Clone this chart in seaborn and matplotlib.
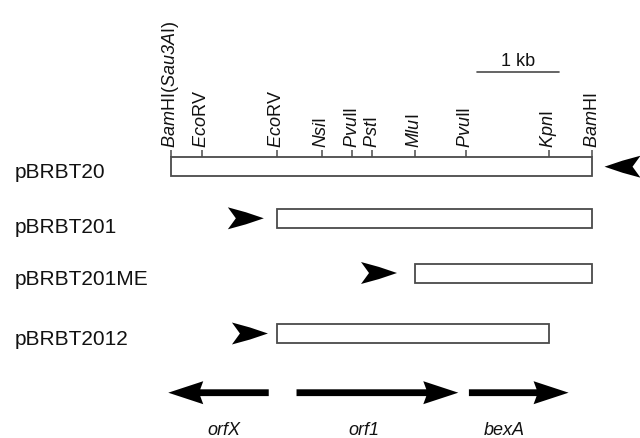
import matplotlib
matplotlib.use("Agg")
import matplotlib.pyplot as plt
from matplotlib.patches import Polygon
import seaborn as sns

# restriction sites, kb from the left BamHI end
# (\mathbf is mapped to the italic face below so digits stay italic too)
site_names = [r"$\mathbf{Bam}$HI($\mathbf{Sau3A}$I)", r"$\mathbf{Eco}$RV", r"$\mathbf{Eco}$RV",
              r"$\mathbf{Nsi}$I", r"$\mathbf{Pvu}$II", r"$\mathbf{Pst}$I", r"$\mathbf{Mlu}$I",
              r"$\mathbf{Pvu}$II", r"$\mathbf{Kpn}$I", r"$\mathbf{Bam}$HI"]
site_kb = [0.0, 0.38, 1.30, 1.85, 2.22, 2.47, 2.99, 3.61, 4.63, 5.16]

# constructs
constructs = ["pBRBT20", "pBRBT201", "pBRBT201ME", "pBRBT2012"]
insert_start = [0.0, 1.30, 2.99, 1.30]
insert_end = [5.16, 5.16, 5.16, 4.63]
primer_tip = [5.31, 1.14, 2.77, 1.19]
primer_dir = [-1, 1, 1, 1]

# genes (tail -> tip)
genes = ["orfX", "orf1", "bexA"]
gene_tail = [1.20, 1.54, 3.65]
gene_tip = [-0.03, 3.52, 4.87]
gene_label_kb = [0.65, 2.36, 4.08]

scale_kb = 1.0

# layout (y in pixels from top)
PX = 81.7          # pixels per kb
X0 = 170.7         # pixel x of 0 kb
row_y = [166.7, 218.3, 273.0, 333.5]
label_base = [177.7, 233.3, 285.0, 345.0]
box_h = 19
gene_y = 392.7
edge = "#4a4a4a"

sns.set_theme(style="white")
plt.rcParams["font.family"] = ["Liberation Sans", "DejaVu Sans"]
plt.rcParams["mathtext.fontset"] = "custom"
plt.rcParams["mathtext.rm"] = "Liberation Sans"
plt.rcParams["mathtext.bf"] = "Liberation Sans:italic"

fig = plt.figure(figsize=(6.4, 4.38), dpi=100)
ax = fig.add_axes([0, 0, 1, 1])
ax.set_xlim(-X0 / PX, (640 - X0) / PX)
ax.set_ylim(438, 0)
ax.axis("off")


def k(px):
    return px / PX


# insert boxes
ax.barh(row_y, [e - s for s, e in zip(insert_start, insert_end)], left=insert_start,
        height=box_h, color="white", edgecolor=edge, linewidth=1.3, zorder=2)

# restriction site ticks + labels
top = row_y[0] - box_h / 2
ax.vlines(site_kb, top - 7, top, color=edge, lw=1.1, zorder=3)
for name, x in zip(site_names, site_kb):
    ax.text(x, top - 9.5, name, rotation=90, ha="center", va="bottom",
            fontsize=13, color="#111111")

# construct labels
for name, yb in zip(constructs, label_base):
    ax.text(k(15 - X0), yb, name, ha="left", va="baseline", fontsize=15, color="#111111")

# primer arrowheads
L, H, N = k(36), 11, k(8)
for tip, d, y in zip(primer_tip, primer_dir, row_y):
    pts = [(tip, y), (tip - d * L * 0.5, y - H * 0.55), (tip - d * L, y - H),
           (tip - d * (L - N), y), (tip - d * L, y + H), (tip - d * L * 0.5, y + H * 0.55)]
    ax.add_patch(Polygon(pts, closed=True, color="black", lw=0, zorder=4))

# gene arrows
t, hl, hh, nn = 3.4, k(35), 11.5, k(3)
for tail, tip, lx, g in zip(gene_tail, gene_tip, gene_label_kb, genes):
    d = 1 if tip > tail else -1
    pts = [(tail, gene_y - t), (tip - d * (hl - nn), gene_y - t), (tip - d * hl, gene_y - hh),
           (tip, gene_y), (tip - d * hl, gene_y + hh), (tip - d * (hl - nn), gene_y + t),
           (tail, gene_y + t)]
    ax.add_patch(Polygon(pts, closed=True, color="black", lw=0))
    ax.text(lx, 435, g, ha="center", va="baseline", fontsize=13, fontstyle="italic",
            color="#111111")

# scale bar
sb0 = 3.75
ax.plot([sb0, sb0 + scale_kb], [71.7, 71.7], color=edge, lw=1.2)
ax.text(sb0 + scale_kb / 2, 66, "1 kb", ha="center", va="baseline", fontsize=13,
        color="#111111")

fig.savefig("out.png", dpi=100)
